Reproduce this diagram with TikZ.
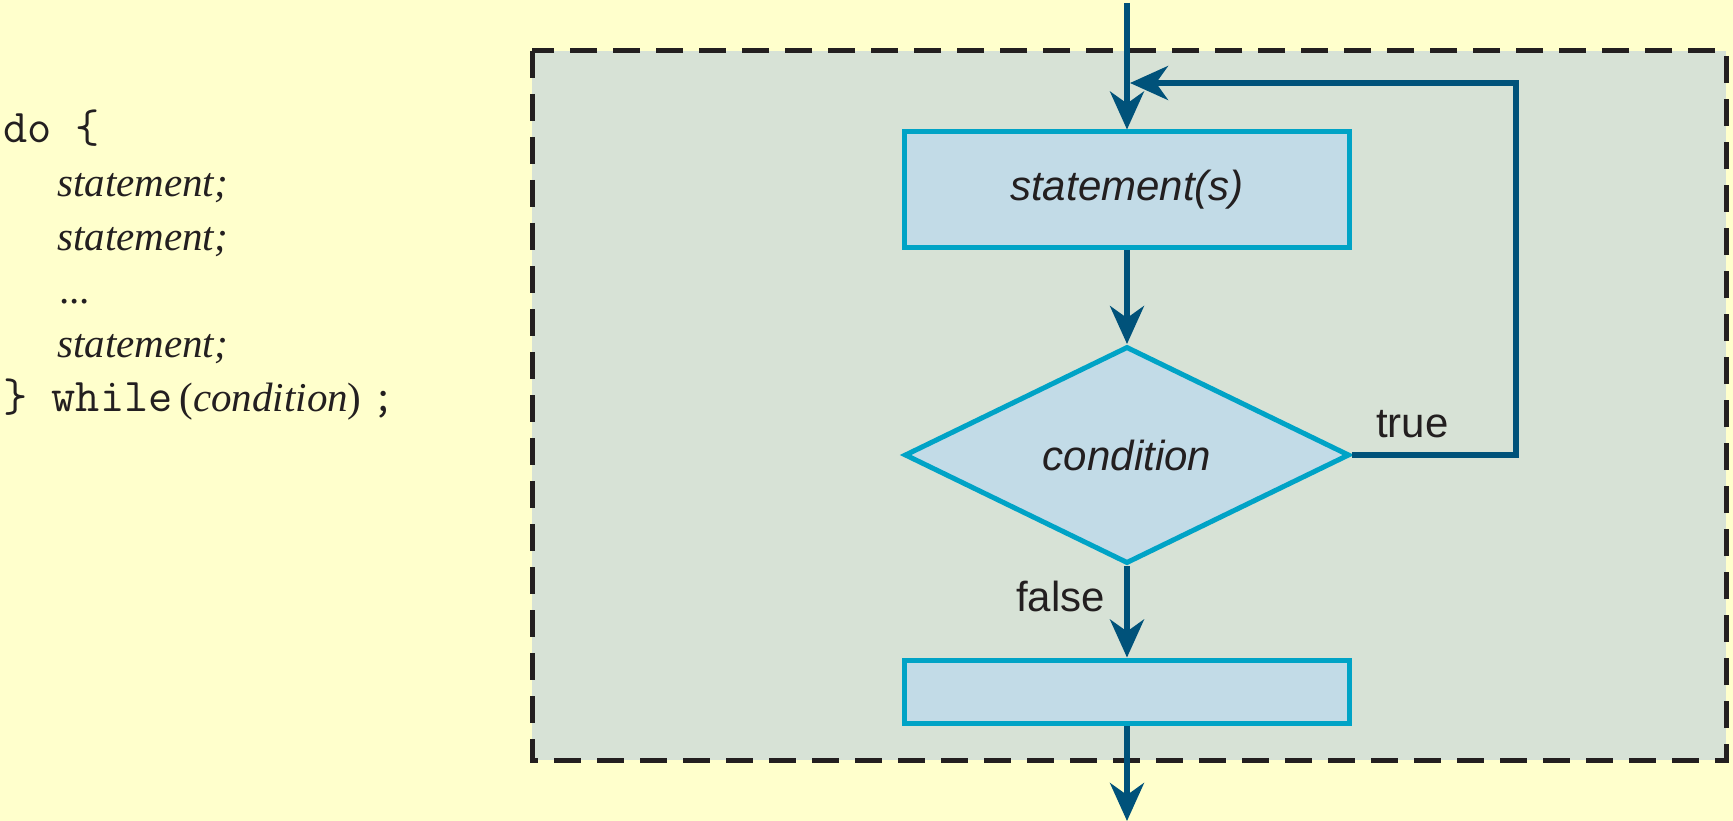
\documentclass[tikz,border=0pt]{standalone}
\usepackage{fontspec}
\setmainfont{Liberation Serif}
\setsansfont{Liberation Sans}
\usetikzlibrary{arrows.meta,shapes.geometric}
\definecolor{bgyellow}{HTML}{FFFFCC}
\definecolor{panel}{HTML}{D7E2D6}
\definecolor{boxfill}{HTML}{C2DBE7}
\definecolor{boxline}{HTML}{00A3C6}
\definecolor{arrowblue}{HTML}{00527A}
\definecolor{ink}{HTML}{231F20}
\begin{document}
\begin{tikzpicture}[x=1pt,y=-1pt,
  flowbox/.style={rectangle, draw=boxline, fill=boxfill, line width=5pt, minimum width=445pt, inner sep=0pt, font=\fontsize{42}{50}\selectfont\sffamily\itshape, text=ink},
  decision/.style={diamond, draw=boxline, fill=boxfill, line width=5pt, minimum width=445pt, minimum height=217pt, inner sep=0pt, font=\fontsize{42}{50}\selectfont\sffamily\itshape, text=ink},
  flow/.style={draw=arrowblue, line width=5.5pt, -{Stealth[length=38pt,width=34pt,inset=12pt]}},
  code/.style={anchor=base west, inner sep=0pt, font=\fontsize{41}{50}\selectfont, text=ink},
  mono/.style={font=\fontsize{47}{50}\selectfont\ttfamily},
  lbl/.style={inner sep=0pt, font=\fontsize{42}{50}\selectfont\sffamily, text=ink}
]
\fill[bgyellow] (0,0) rectangle (1733,821);
\useasboundingbox (0,0) rectangle (1733,821);
\draw[ink, line width=5pt, dash pattern=on 27pt off 16pt, fill=panel] (532,51) rectangle (1726,760);

\node[flowbox, minimum height=116pt] (stmts) at (1127,190) {statement(s)};
\node[decision] (cond) at (1127,455) {condition};
\node[flowbox, minimum height=63pt] (next) at (1127,691.5) {};
\coordinate (entry) at (1127,3);
\coordinate (exit) at (1127,821);
\coordinate (loopR) at (1516,83);
\coordinate (loopIn) at (1130,83);

\draw[flow] (entry) -- (stmts.north);
\draw[flow] (stmts) -- (cond);
\draw[flow] (cond) -- (next);
\draw[flow] (next) -- (exit);
\draw[flow] (cond.east) -| (loopR) -- (loopIn);

\node[lbl, anchor=base east] (falselbl) at (1105,611) {false};
\node[lbl, anchor=base west] (truelbl) at (1376,437) {true};

\node[code, mono] (l1) at (3,143) {do \{};
\node[code] (l2) at (57,197) {\itshape statement;};
\node[code] (l3) at (57,251) {\itshape statement;};
\node[code] (l4) at (60,303) {\itshape ...};
\node[code] (l5) at (57,357) {\itshape statement;};
\node[code] (l6) at (3,411) {{\fontsize{47}{50}\selectfont\ttfamily \} while}\,(\textit{condition})\ {\fontsize{47}{50}\selectfont\ttfamily;}};
\end{tikzpicture}
\end{document}
